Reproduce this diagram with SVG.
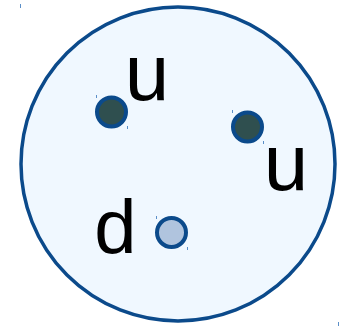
<svg xmlns="http://www.w3.org/2000/svg" width="340" height="328" viewBox="0 0 340 328">
<style>
.lbl{font-family:"Liberation Sans",Arial,sans-serif;fill:#000}
.q{stroke:#0b4a8b;stroke-width:4}
.tick{stroke:#5b8fc8;stroke-width:1}
</style>
<rect width="340" height="328" fill="#fff"/>
<g id="proton">
<circle cx="178" cy="164" r="157" fill="#f0f8ff" stroke="#0b4a8b" stroke-width="3.5"/>
<line class="tick" x1="20.5" y1="4" x2="20.5" y2="8"/>
<line class="tick" x1="338.5" y1="322" x2="338.5" y2="326"/>
</g>
<g id="quark-u1">
<circle class="q" cx="111.5" cy="112" r="14.5" fill="#2f4f4f"/>
<line class="tick" x1="96.5" y1="95" x2="96.5" y2="98"/>
<line class="tick" x1="127.5" y1="126" x2="127.5" y2="129"/>
<text class="lbl" x="147" y="100" font-size="80" text-anchor="middle">u</text>
</g>
<g id="quark-u2">
<circle class="q" cx="247.5" cy="127" r="14.5" fill="#2f4f4f"/>
<line class="tick" x1="232.5" y1="110" x2="232.5" y2="113"/>
<line class="tick" x1="263.5" y1="141" x2="263.5" y2="144"/>
<text class="lbl" x="286" y="190" font-size="80" text-anchor="middle">u</text>
</g>
<g id="quark-d">
<circle class="q" cx="171.5" cy="232.5" r="14.5" fill="#b0c4de"/>
<line class="tick" x1="156.5" y1="216" x2="156.5" y2="219"/>
<line class="tick" x1="187.5" y1="247" x2="187.5" y2="250"/>
<text class="lbl" x="115.5" y="253" font-size="76" text-anchor="middle">d</text>
</g>
<g id="connectors"></g>
</svg>
